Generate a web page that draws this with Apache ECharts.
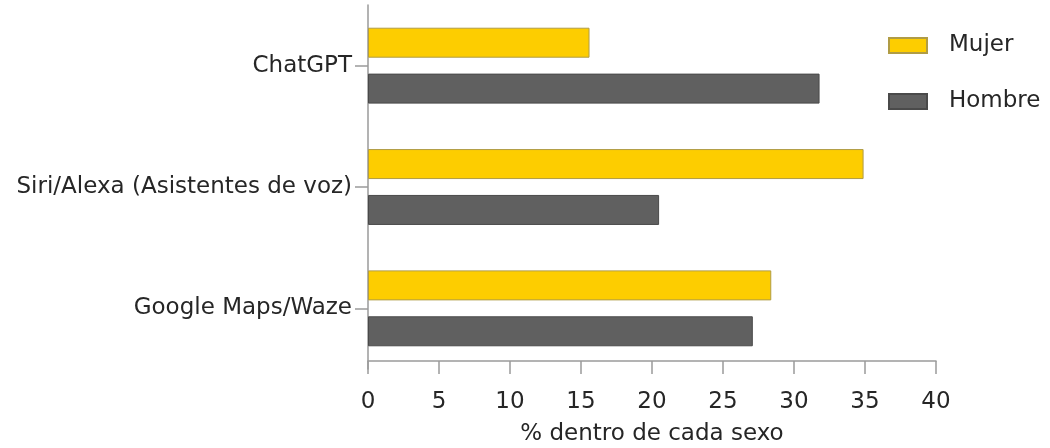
<!doctype html>
<html lang="es">
<head>
    <meta charset="UTF-8">
    <script src="https://cdn.jsdelivr.net/npm/echarts@6/dist/echarts.min.js"></script>
    <title>% dentro de cada sexo</title>
    <style>
        html, body { margin: 0; padding: 0; background: #fff; }
    </style>
</head>
<body>
<div id="main" style="width: 1050px;height:448px;"></div>
<script>
    // categorías (de arriba hacia abajo)
    var categorias = ['ChatGPT', 'Siri/Alexa (Asistentes de voz)', 'Google Maps/Waze'];
    var mujer = [15.6, 34.9, 28.4];
    var hombre = [31.8, 20.5, 27.1];
    var ticksX = [0, 5, 10, 15, 20, 25, 30, 35, 40];

    var fuente = 'DejaVu Sans';
    var colorTexto = '#262626';
    var colorEje = '#9a9a9a';
    var myChart = echarts.init(document.getElementById('main'));

    var option = {
        backgroundColor: '#fff',
        animation: false,
        textStyle: { fontFamily: fuente },
        legend: {
            orient: 'vertical',
            left: 883,
            top: 29,
            icon: 'rect',
            itemWidth: 38,
            itemHeight: 15,
            itemGap: 33,
            textStyle: { fontFamily: fuente, fontSize: 23, color: colorTexto, padding: [0, 0, 0, 17] },
            data: ['Mujer', 'Hombre']
        },
        grid: {
            left: 368,
            top: 5,
            width: 568,
            height: 364,
            outerBoundsMode: 'none',
            containLabel: false
        },
        xAxis: {
            type: 'value',
            min: ticksX[0],
            max: ticksX[ticksX.length - 1],
            interval: 5,
            offset: -8,
            name: '% dentro de cada sexo',
            nameLocation: 'middle',
            nameGap: 62,
            nameTextStyle: { fontFamily: fuente, fontSize: 23, color: colorTexto },
            axisLine: { show: true, lineStyle: { color: colorEje, width: 1.5 } },
            axisTick: { show: true, length: 13, lineStyle: { color: colorEje, width: 1.5 } },
            axisLabel: { fontFamily: fuente, fontSize: 23, color: colorTexto, margin: 30 },
            splitLine: { show: false }
        },
        yAxis: {
            type: 'category',
            inverse: true,
            data: categorias,
            axisLine: { show: true, lineStyle: { color: colorEje, width: 1.5 } },
            axisTick: { show: true, alignWithLabel: true, length: 13, lineStyle: { color: colorEje, width: 1.5 } },
            axisLabel: { fontFamily: fuente, fontSize: 23, color: colorTexto, margin: 16, padding: [15, 0, 0, 0] }
        },
        series: [
            {
                name: 'Mujer',
                type: 'bar',
                data: mujer,
                barWidth: 30,
                barGap: '53%',
                itemStyle: { color: '#fdcd00', borderColor: '#b09c45', borderWidth: 1 }
            },
            {
                name: 'Hombre',
                type: 'bar',
                data: hombre,
                barWidth: 30,
                itemStyle: { color: '#606060', borderColor: '#4a4a4a', borderWidth: 1 }
            }
        ]
    };

    myChart.setOption(option);
</script>
</body>
</html>
